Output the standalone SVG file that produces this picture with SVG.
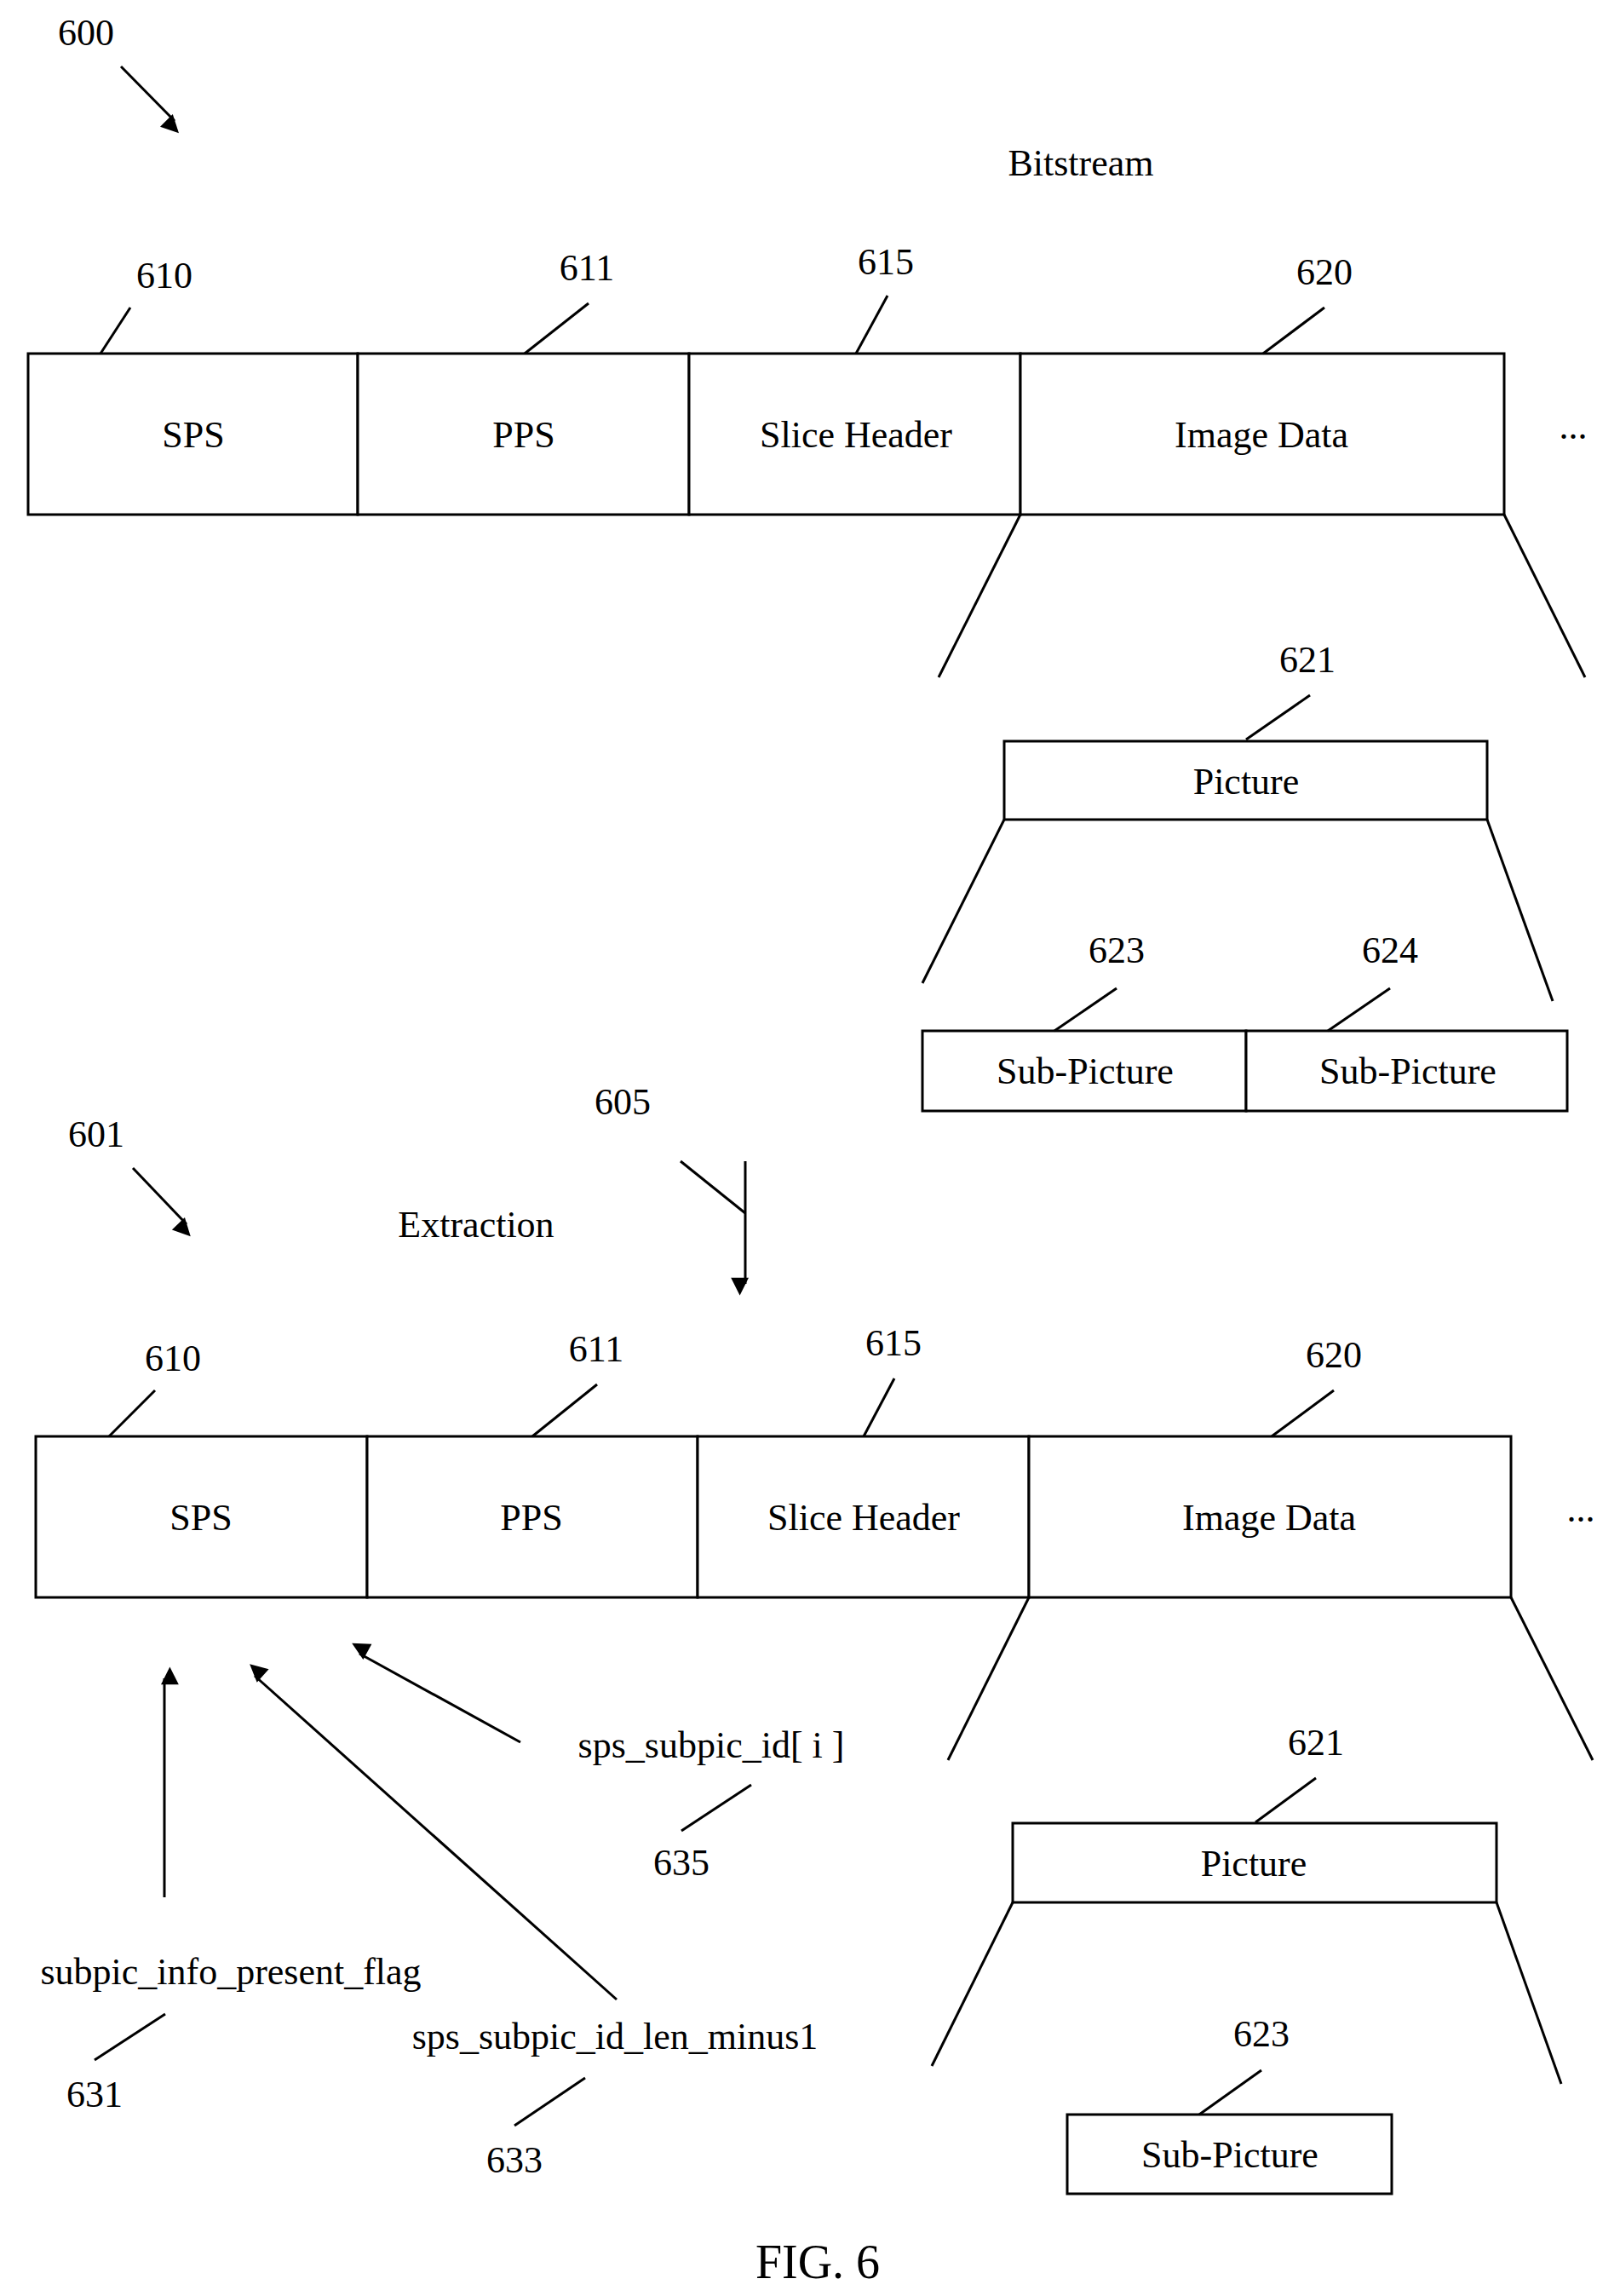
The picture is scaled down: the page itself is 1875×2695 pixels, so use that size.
<svg xmlns="http://www.w3.org/2000/svg" width="1875" height="2695" viewBox="0 0 1875 2695">
<defs>
<style>
text{font-family:"Liberation Serif","Times New Roman",serif;font-size:44px;fill:#000;text-anchor:middle;dominant-baseline:central}
.b{fill:#fff;stroke:#000;stroke-width:3}
.l{stroke:#000;stroke-width:3;fill:none}
.a{stroke:#000;stroke-width:3;fill:none;marker-end:url(#ah)}
</style>
<marker id="ah" viewBox="0 0 10 10" refX="9" refY="5" markerWidth="10" markerHeight="8" markerUnits="userSpaceOnUse" orient="auto" style="overflow:visible">
<path d="M0,0 L10,5 L0,10 Z" transform="scale(2.6)" fill="#000"/>
</marker>
</defs>
<rect width="1875" height="2695" fill="#fff"/>
<g id="labels">
<text x="101" y="38">600</text>
<text x="1269" y="191">Bitstream</text>
<text x="193" y="323">610</text>
<text x="689" y="314">611</text>
<text x="1040" y="307">615</text>
<text x="1555" y="319">620</text>
<text x="1847" y="500">...</text>
<text x="1535" y="774">621</text>
<text x="1311" y="1115">623</text>
<text x="1632" y="1115">624</text>
<text x="113" y="1331">601</text>
<text x="559" y="1437">Extraction</text>
<text x="731" y="1293">605</text>
<text x="203" y="1594">610</text>
<text x="700" y="1583">611</text>
<text x="1049" y="1576">615</text>
<text x="1566" y="1590">620</text>
<text x="1856" y="1771">...</text>
<text x="1545" y="2045">621</text>
<text x="1481" y="2387">623</text>
<text x="835" y="2048">sps_subpic_id[ i ]</text>
<text x="800" y="2186">635</text>
<text x="271" y="2314">subpic_info_present_flag</text>
<text x="111" y="2458">631</text>
<text x="722" y="2390">sps_subpic_id_len_minus1</text>
<text x="604" y="2535">633</text>
<text x="960" y="2655" style="font-size:56px">FIG. 6</text>
</g>
<g id="top-stream">
<g id="sps1"><rect class="b" x="33" y="415" width="387" height="189"/><text x="227" y="510">SPS</text></g>
<g id="pps1"><rect class="b" x="420" y="415" width="389" height="189"/><text x="615" y="510">PPS</text></g>
<g id="sh1"><rect class="b" x="809" y="415" width="389" height="189"/><text x="1005" y="510">Slice Header</text></g>
<g id="img1"><rect class="b" x="1198" y="415" width="568" height="189"/><text x="1481" y="510">Image Data</text></g>
<g id="pic1"><rect class="b" x="1179" y="870" width="567" height="92"/><text x="1463" y="917">Picture</text></g>
<g id="sub1a"><rect class="b" x="1083" y="1210" width="380" height="94"/><text x="1274" y="1257">Sub-Picture</text></g>
<g id="sub1b"><rect class="b" x="1463" y="1210" width="377" height="94"/><text x="1653" y="1257">Sub-Picture</text></g>
</g>
<g id="bottom-stream">
<g id="sps2"><rect class="b" x="42" y="1686" width="389" height="189"/><text x="236" y="1781">SPS</text></g>
<g id="pps2"><rect class="b" x="431" y="1686" width="388" height="189"/><text x="624" y="1781">PPS</text></g>
<g id="sh2"><rect class="b" x="819" y="1686" width="389" height="189"/><text x="1014" y="1781">Slice Header</text></g>
<g id="img2"><rect class="b" x="1208" y="1686" width="566" height="189"/><text x="1490" y="1781">Image Data</text></g>
<g id="pic2"><rect class="b" x="1189" y="2140" width="568" height="93"/><text x="1472" y="2187">Picture</text></g>
<g id="sub2"><rect class="b" x="1253" y="2482" width="381" height="93"/><text x="1444" y="2529">Sub-Picture</text></g>
</g>
<g id="connectors">
<line class="a" x1="142" y1="78" x2="205" y2="142"/>
<line class="l" x1="153" y1="361" x2="118" y2="415"/>
<line class="l" x1="691" y1="356" x2="616" y2="415"/>
<line class="l" x1="1042" y1="347" x2="1005" y2="415"/>
<line class="l" x1="1555" y1="361" x2="1483" y2="415"/>
<line class="l" x1="1198" y1="604" x2="1102" y2="795"/>
<line class="l" x1="1766" y1="604" x2="1861" y2="795"/>
<line class="l" x1="1538" y1="816" x2="1463" y2="868"/>
<line class="l" x1="1179" y1="962" x2="1083" y2="1154"/>
<line class="l" x1="1746" y1="962" x2="1823" y2="1175"/>
<line class="l" x1="1311" y1="1160" x2="1238" y2="1210"/>
<line class="l" x1="1632" y1="1160" x2="1559" y2="1210"/>
<line class="a" x1="156" y1="1371" x2="219" y2="1437"/>
<line class="l" x1="799" y1="1363" x2="875" y2="1424"/>
<line class="a" x1="875" y1="1363" x2="875" y2="1507"/>
<line class="l" x1="182" y1="1632" x2="128" y2="1686"/>
<line class="l" x1="701" y1="1625" x2="625" y2="1686"/>
<line class="l" x1="1050" y1="1618" x2="1014" y2="1686"/>
<line class="l" x1="1566" y1="1632" x2="1493" y2="1686"/>
<line class="l" x1="1208" y1="1875" x2="1113" y2="2066"/>
<line class="l" x1="1774" y1="1875" x2="1870" y2="2066"/>
<line class="l" x1="1545" y1="2087" x2="1474" y2="2139"/>
<line class="l" x1="1189" y1="2233" x2="1094" y2="2425"/>
<line class="l" x1="1757" y1="2233" x2="1833" y2="2446"/>
<line class="l" x1="1481" y1="2430" x2="1408" y2="2482"/>
<line class="a" x1="193" y1="2227" x2="193" y2="1970"/>
<line class="a" x1="724" y1="2347" x2="299" y2="1967"/>
<line class="a" x1="611" y1="2045" x2="422" y2="1941"/>
<line class="l" x1="882" y1="2095" x2="800" y2="2149"/>
<line class="l" x1="194" y1="2364" x2="111" y2="2418"/>
<line class="l" x1="687" y1="2439" x2="604" y2="2495"/>
</g>
</svg>
